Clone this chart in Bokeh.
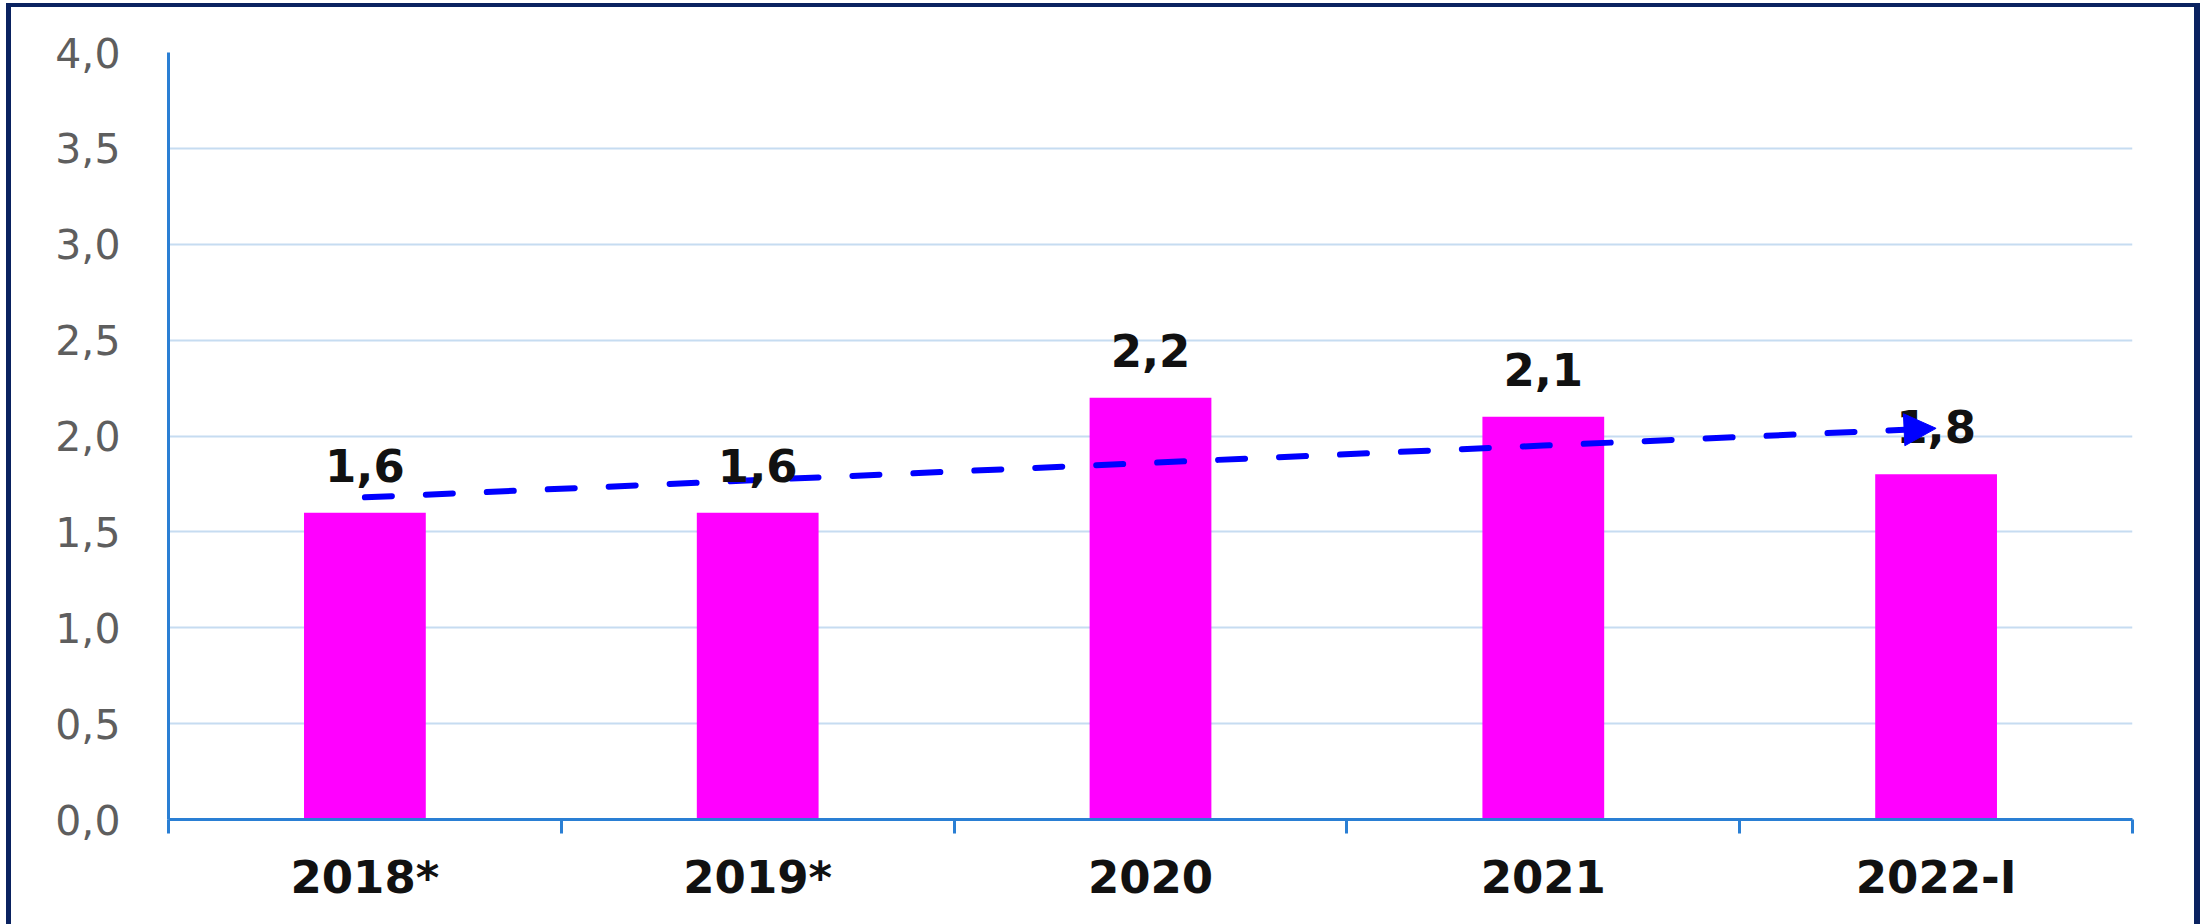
import numpy as np
from bokeh.plotting import figure
from bokeh.models import (ColumnDataSource, FixedTicker, LabelSet, Arrow,
                          NormalHead, Range1d)
from bokeh.core.properties import value
from bokeh.layouts import column
from bokeh.embed import file_html
from bokeh.resources import INLINE

# ---- data ----
categories = ["2018*", "2019*", "2020", "2021", "2022-I"]
values = [1.6, 1.6, 2.2, 2.1, 1.8]
value_labels = ["1,6", "1,6", "2,2", "2,1", "1,8"]
y_ticks = [0.0, 0.5, 1.0, 1.5, 2.0, 2.5, 3.0, 3.5, 4.0]
y_tick_labels = ["0,0", "0,5", "1,0", "1,5", "2,0", "2,5", "3,0", "3,5", "4,0"]

# ---- derived positions (category slots on a numeric scale) ----
n = len(categories)
x_centers = [i + 0.5 for i in range(n)]
boundaries = [float(i) for i in range(n + 1)]

# linear trend line fitted to the series
idx = np.arange(1, n + 1)
slope, intercept = np.polyfit(idx, values, 1)
trend = [float(slope * i + intercept) for i in idx]

BLUE_AXIS = "#2A7FD4"
GRID = "#C6DCF1"
MAGENTA = "#FF00FF"
TREND = "#0000FF"
NAVY = "#0A2260"

p = figure(width=2183, height=917,
           x_range=Range1d(0, n), y_range=Range1d(0, 4),
           output_backend="svg", toolbar_location=None,
           min_border_left=157, min_border_right=62,
           min_border_top=45, min_border_bottom=105)
p.outline_line_color = None
p.background_fill_color = "white"
p.border_fill_color = "white"

# grid
p.xgrid.visible = False
p.ygrid.ticker = FixedTicker(ticks=y_ticks)
p.ygrid.grid_line_color = GRID
p.ygrid.grid_line_width = 2

# x axis: labels at slot centers, tick marks at slot boundaries
p.xaxis.ticker = FixedTicker(ticks=x_centers, minor_ticks=boundaries)
p.xaxis.major_label_overrides = {x: c for x, c in zip(x_centers, categories)}
p.xaxis.major_tick_out = 0
p.xaxis.major_tick_in = 0
p.xaxis.minor_tick_out = 14
p.xaxis.minor_tick_in = 0
p.xaxis.minor_tick_line_color = BLUE_AXIS
p.xaxis.minor_tick_line_width = 3
p.xaxis.axis_line_color = BLUE_AXIS
p.xaxis.axis_line_width = 3
p.xaxis.major_label_standoff = 17
p.xaxis.major_label_text_font = "DejaVu Sans"
p.xaxis.major_label_text_font_style = "bold"
p.xaxis.major_label_text_font_size = "45px"
p.xaxis.major_label_text_color = "#111111"

# y axis
p.yaxis.ticker = FixedTicker(ticks=y_ticks)
p.yaxis.major_label_overrides = {t: s for t, s in zip(y_ticks, y_tick_labels)}
p.yaxis.major_tick_out = 0
p.yaxis.major_tick_in = 0
p.yaxis.minor_tick_out = 0
p.yaxis.minor_tick_in = 0
p.yaxis.axis_line_color = BLUE_AXIS
p.yaxis.axis_line_width = 3
p.yaxis.major_label_standoff = 48
p.yaxis.major_label_text_font = "DejaVu Sans"
p.yaxis.major_label_text_font_size = "41px"
p.yaxis.major_label_text_color = "#5E5E5E"

# bars
src = ColumnDataSource(dict(x=x_centers, top=values, label=value_labels))
p.vbar(x="x", top="top", bottom=0, width=0.31, source=src,
       fill_color=MAGENTA, line_color=None)

# value labels
labels = LabelSet(x="x", y="top", text="label", source=src,
                  y_offset=31, text_align="center", text_baseline="alphabetic",
                  text_font=value("DejaVu Sans"), text_font_style="bold",
                  text_font_size="45px", text_color="#111111")
p.add_layout(labels)

# dashed trend line with arrow head
p.line(x=x_centers, y=trend, line_color=TREND, line_width=6,
       line_dash="27 34", line_cap="round")
arrow = Arrow(x_start=x_centers[-2], y_start=trend[-2],
              x_end=x_centers[-1], y_end=trend[-1],
              line_alpha=0,
              end=NormalHead(size=32, fill_color=TREND, line_color=TREND,
                             line_width=1))
p.add_layout(arrow)

layout = column(p, styles={
    "border-left": f"5px solid {NAVY}",
    "border-top": f"4px solid {NAVY}",
    "border-right": f"6px solid {NAVY}",
    "margin-left": "6px",
    "margin-top": "3px",
})

open("out.html", "w").write(file_html(layout, INLINE))
